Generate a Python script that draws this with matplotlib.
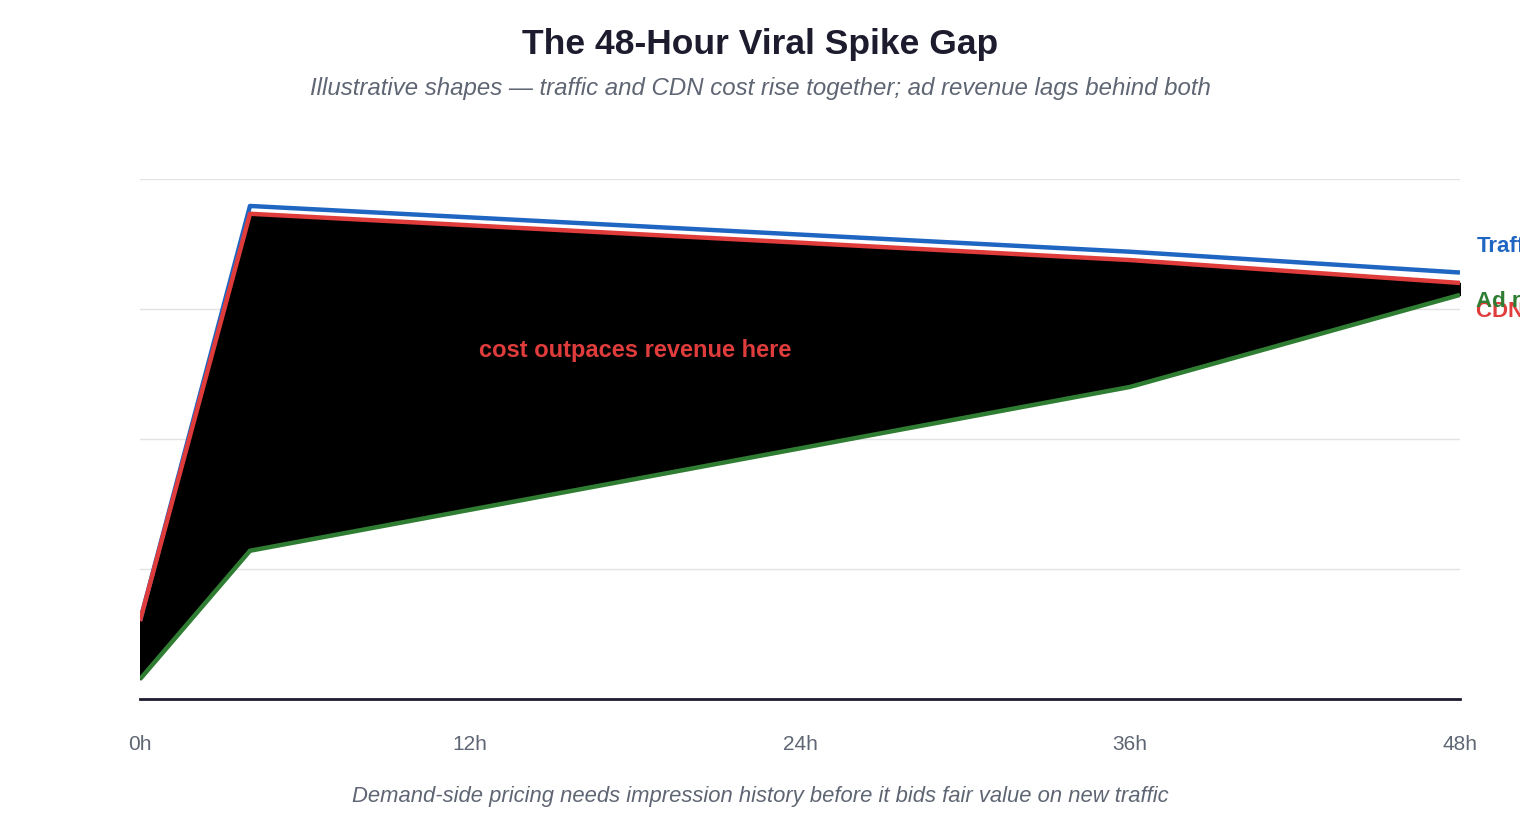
import matplotlib.pyplot as plt

# Illustrative shapes
hours = [0, 4, 36, 48]
traffic = [15, 94.8, 86.0, 82]
cdn_cost = [15, 93.3, 84.4, 80]
ad_revenue = [3.8, 28.5, 60, 77.7]

plt.rcParams['font.family'] = ['Liberation Sans', 'DejaVu Sans']
fig = plt.figure(figsize=(15.2, 8.4), dpi=100)
ax = fig.add_axes([0.0921, 0.1679, 0.8684, 0.6191])

# gap between cost and revenue
plt.fill_between(hours, cdn_cost, ad_revenue, color='black', zorder=2)

# drawing lines
plt.plot(hours, traffic, color='#1f66c2', lw=3.2, zorder=3, solid_capstyle='butt')
plt.plot(hours, cdn_cost, color='#e03c3c', lw=3.2, zorder=4, solid_capstyle='butt')
plt.plot(hours, ad_revenue, color='#2e7d32', lw=3.2, zorder=5, solid_capstyle='butt')

# end labels, cut by the figure edge as in the original
plt.text(48.6, traffic[-1] + 5, 'Traffic', color='#1f66c2', fontsize=16, fontweight='bold', va='center', clip_on=False)
plt.text(48.6, cdn_cost[-1] - 5.5, 'CDN cost', color='#e03c3c', fontsize=16, fontweight='bold', va='center', clip_on=False)
plt.text(48.6, ad_revenue[-1] - 1.2, 'Ad revenue', color='#2e7d32', fontsize=16, fontweight='bold', va='center', clip_on=False)

plt.text(18, 67, 'cost outpaces revenue here', color='#e03c3c', fontsize=17, fontweight='bold', ha='center', va='center', zorder=6)

plt.xlim(0, 48)
plt.ylim(0, 100)
plt.xticks([0, 12, 24, 36, 48], ['0h', '12h', '24h', '36h', '48h'])
plt.yticks([0, 25, 50, 75, 100], [])
plt.grid(axis='y', color='#e3e3e3', lw=1)
ax.set_axisbelow(True)
ax.tick_params(axis='both', length=0, pad=26, labelsize=15, labelcolor='#5f6673')
for s in ['top', 'right', 'left']:
    ax.spines[s].set_visible(False)
ax.spines['bottom'].set_color('#1c1c2e')
ax.spines['bottom'].set_linewidth(2)

fig.text(0.5, 0.947, 'The 48-Hour Viral Spike Gap', ha='center', va='center', fontsize=25.5, fontweight='bold', color='#1c1c2e')
fig.text(0.5, 0.895, 'Illustrative shapes \u2014 traffic and CDN cost rise together; ad revenue lags behind both',
         ha='center', va='center', fontsize=17.3, style='italic', color='#5f6673')
fig.text(0.5, 0.052, 'Demand-side pricing needs impression history before it bids fair value on new traffic',
         ha='center', va='center', fontsize=15.8, style='italic', color='#5f6673')

plt.savefig('out.png', dpi=100)
